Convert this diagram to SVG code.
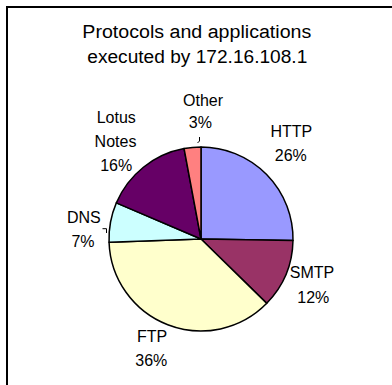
<svg xmlns="http://www.w3.org/2000/svg" width="392" height="385" viewBox="0 0 392 385">
  <style>
    text { font-family: "Liberation Sans", Arial, sans-serif; fill: #000; }
    .title { font-size: 18px; }
    .lbl { font-size: 16px; text-anchor: middle; }
    .slice { stroke: #000; stroke-width: 1.5; stroke-linejoin: round; }
    .leader { fill: none; stroke: #000; stroke-width: 1; }
  </style>
  <rect width="392" height="385" fill="#fff"/>
  <!-- chart frame (left and top edges) -->
  <path d="M7 385 V7 H392" fill="none" stroke="#000" stroke-width="2"/>

  <g id="title">
    <text class="title" x="82.3" y="37.7" textLength="229" lengthAdjust="spacingAndGlyphs">Protocols and applications</text>
    <text class="title" x="87.3" y="62.7" textLength="220" lengthAdjust="spacingAndGlyphs">executed by 172.16.108.1</text>
  </g>

  <!-- pie: centre (201,239), radius 92, clockwise from 12 o'clock -->
  <g id="slice-http"><path class="slice" fill="#9999FF" d="M201 239 L201 147 A92 92 0 0 1 292.99 240.61 Z"/></g>
  <g id="slice-smtp"><path class="slice" fill="#993366" d="M201 239 L292.99 240.61 A92 92 0 0 1 266.77 303.34 Z"/></g>
  <g id="slice-ftp"><path class="slice" fill="#FFFFCC" d="M201 239 L266.77 303.34 A92 92 0 0 1 109.06 242.21 Z"/></g>
  <g id="slice-dns"><path class="slice" fill="#CCFFFF" d="M201 239 L109.06 242.21 A92 92 0 0 1 116.33 202.91 Z"/></g>
  <g id="slice-lotus"><path class="slice" fill="#660066" d="M201 239 L116.33 202.91 A92 92 0 0 1 184.08 148.57 Z"/></g>
  <g id="slice-other"><path class="slice" fill="#FF8080" d="M201 239 L184.08 148.57 A92 92 0 0 1 201 147 Z"/></g>

  <g id="connectors">
    <path class="leader" d="M199.5 137 V141 L197.5 143"/>
    <path class="leader" d="M102.5 228.7 H106.5 V233"/>
  </g>

  <g id="label-http">
    <text class="lbl" x="291.3" y="137.3">HTTP</text>
    <text class="lbl" x="290.8" y="161">26%</text>
  </g>
  <g id="label-smtp">
    <text class="lbl" x="312" y="278.3">SMTP</text>
    <text class="lbl" x="313.3" y="302.5">12%</text>
  </g>
  <g id="label-ftp">
    <text class="lbl" x="152" y="341.7">FTP</text>
    <text class="lbl" x="151.3" y="365.7">36%</text>
  </g>
  <g id="label-dns">
    <text class="lbl" x="83.8" y="222.7">DNS</text>
    <text class="lbl" x="83" y="246.5">7%</text>
  </g>
  <g id="label-lotus">
    <text class="lbl" x="116.3" y="122.7">Lotus</text>
    <text class="lbl" x="115.5" y="146.7">Notes</text>
    <text class="lbl" x="116.2" y="170.7">16%</text>
  </g>
  <g id="label-other">
    <text class="lbl" x="203" y="105.5">Other</text>
    <text class="lbl" x="200.3" y="128">3%</text>
  </g>
</svg>
